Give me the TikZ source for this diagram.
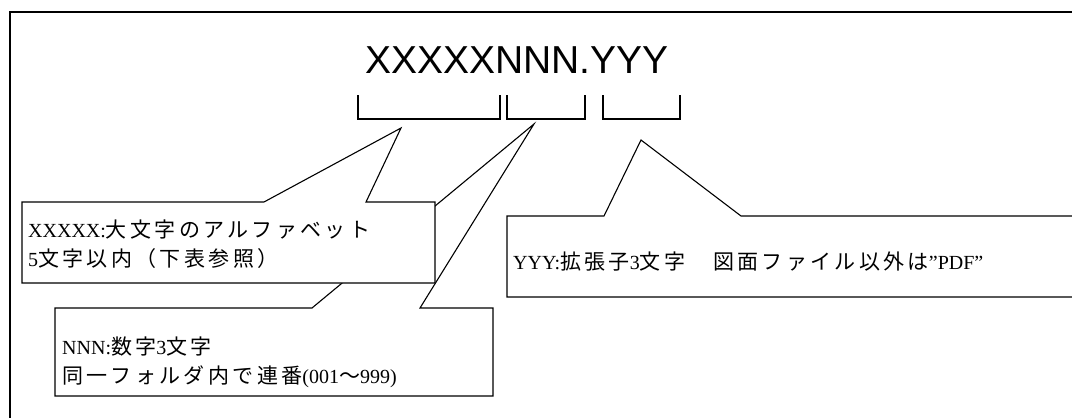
\documentclass[tikz,border=0pt]{standalone}
\usepackage{fontspec}
\setmainfont{Liberation Serif}
\newfontfamily\jp[LetterSpace=16]{Noto Sans CJK JP}
\newfontfamily\arialf{Liberation Sans}
\newcommand{\J}[1]{{\fontsize{21}{21}\selectfont\jp #1}}
\begin{document}
\begin{tikzpicture}[x=1pt,y=-1pt,line join=miter]
\tikzset{
  callout/.style={draw=black,line width=1.1pt,fill=white},
  bracketline/.style={line width=2.8pt},
  lbl/.style={anchor=base west,inner sep=0pt,font=\fontsize{20}{20}\selectfont},
  frameline/.style={line width=1.5pt}
}
\useasboundingbox (0,0) rectangle (1072,418);
\clip (0,0) rectangle (1072,418);
% outer frame
\draw[frameline] (1090,12) -- (10,12) -- (10,440);
% title
\node[anchor=base west,inner sep=0pt,font=\arialf\fontsize{39}{39}\selectfont] (title) at (365,73) {XXXXXNNN.YYY};
% brackets
\draw[bracketline] (358,95) -- (358,119) -- (500,119) -- (500,95);
\draw[bracketline] (507,95) -- (507,119) -- (585,119) -- (585,95);
\draw[bracketline] (603,95) -- (603,119) -- (680,119) -- (680,95);
% callout 2 (behind callout 1)
\draw[callout] (55,308) -- (312,308) -- (534,124) -- (420,308) -- (493,308) -- (493,396) -- (55,396) -- cycle;
% callout 1
\draw[callout] (22,202) -- (264,202) -- (401,128) -- (366,202) -- (435,202) -- (435,283) -- (22,283) -- cycle;
% callout 3
\draw[callout] (507,216) -- (604,216) -- (641,140) -- (741,216) -- (1090,216) -- (1090,297) -- (507,297) -- cycle;
% texts
\node[lbl] (t1a) at (28,237) {XXXXX:\J{大文字のアルファベット}};
\node[lbl] (t1b) at (28,266) {5\J{文字以内（下表参照）}};
\node[lbl] (t2a) at (62,354) {NNN:\J{数字}3\J{文字}};
\node[lbl] (t2b) at (62,383) {\J{同一フォルダ内で連番}(001\J{～}999)};
\node[lbl] (t3) at (513,269) {YYY:\J{拡張子}3\J{文字　図面ファイル以外は}”PDF”};
\end{tikzpicture}
\end{document}
